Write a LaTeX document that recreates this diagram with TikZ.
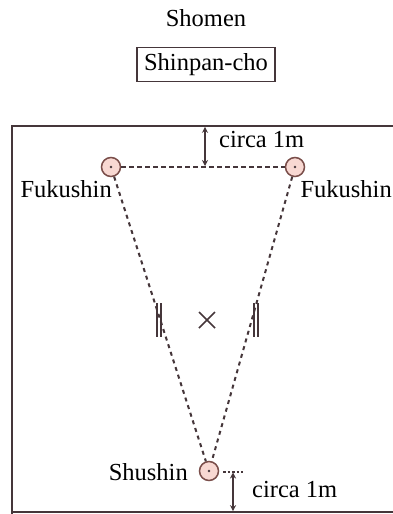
\documentclass[tikz,border=0pt]{standalone}
\usepackage{fontspec}
\setmainfont{Liberation Serif}
\usetikzlibrary{arrows.meta,calc}
\definecolor{ink}{HTML}{45363A}
\definecolor{pinkfill}{HTML}{F8D8D2}
\definecolor{ringc}{HTML}{7A4E4A}
\tikzset{
  lbl/.style={font=\fontsize{24.5}{28}\selectfont, inner sep=0pt, anchor=base, text=black},
  ref/.style={circle, draw=ringc, fill=pinkfill, line width=1.5pt, minimum size=19pt, inner sep=0pt},
  walkline/.style={draw=ink, line width=2pt, dash pattern=on 4pt off 4pt},
  sideline/.style={draw=ink, line width=1.6pt, dash pattern=on 5pt off 3pt},
  court/.style={draw=ink, line width=1.6pt},
  dim/.style={draw=ink, line width=1.3pt, {Stealth[length=6pt,width=6pt]}-{Stealth[length=6pt,width=6pt]}},
  markline/.style={draw=ink, line width=1.4pt}
}
\begin{document}
\begin{tikzpicture}[x=1pt,y=-1pt]
\useasboundingbox (0,0) rectangle (393,514);
% titles
\node[lbl] (shomen) at (206,27) {Shomen};
\node[lbl, draw=ink, line width=1.3pt, inner xsep=7pt, inner ysep=6pt, anchor=center] (cho) at (206,64.5) {Shinpan-cho};
% court
\draw[court] (393,126) -- (12,126) -- (12,514);
\draw[court] (12,512) -- (393,512);
% referees
\node[ref] (fl) at (111,167) {};
\node[ref] (fr) at (295,167) {};
\node[ref] (sh) at (209,471) {};
\fill[ink] (fl.center) circle (1.3pt);
\fill[ink] (fr.center) circle (1.3pt);
\fill[ink] (sh.center) circle (1.3pt);
% lines
\draw[sideline] (fl) -- (fr);
\draw[walkline] (fl) -- (sh);
\draw[walkline] (fr) -- (sh);
% labels
\node[lbl, anchor=base east] (lfl) at (112,197) {Fukushin};
\node[lbl, anchor=base east] (lfr) at (392,197) {Fukushin};
\node[lbl, anchor=base east] (lsh) at (188,480) {Shushin};
% top distance
\coordinate (t1) at (205,126.8);
\coordinate (t2) at (205,166);
\draw[dim] (t1) -- (t2);
\node[lbl, anchor=base west] (c1) at (219,147) {circa 1m};
% bottom distance
\coordinate (b0) at (223,472);
\coordinate (b0e) at (243,472);
\coordinate (b1) at (233,472.5);
\coordinate (b2) at (233,511.2);
\draw[draw=ink, line width=1.3pt, dash pattern=on 2.5pt off 2pt] (b0) -- (b0e);
\draw[dim] (b1) -- (b2);
\node[lbl, anchor=base west] (c2) at (252,497) {circa 1m};
% start marks
\draw[markline] (157,303) -- (157,337);
\draw[markline] (161,303) -- (161,337);
\draw[markline] (254,303) -- (254,337);
\draw[markline] (258,303) -- (258,337);
% center x
\coordinate (xc) at (207,320);
\draw[markline, line width=1.6pt] ($(xc)+(-8,-8)$) -- ($(xc)+(8,8)$);
\draw[markline, line width=1.6pt] ($(xc)+(-8,8)$) -- ($(xc)+(8,-8)$);
\end{tikzpicture}
\end{document}
